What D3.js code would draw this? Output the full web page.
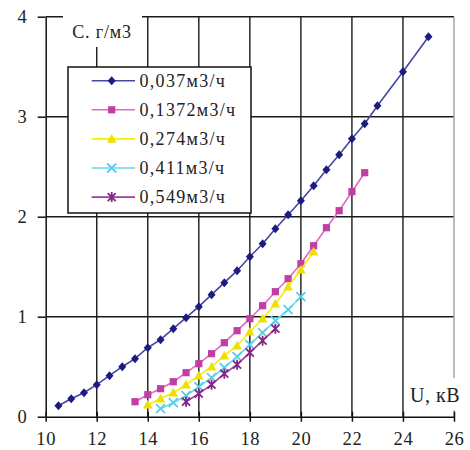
<!DOCTYPE html>
<html><head><meta charset="utf-8">
<script src="https://cdn.jsdelivr.net/npm/d3@7"></script>
<style>html,body{margin:0;padding:0;background:#fff;}svg{display:block;}</style>
</head><body>
<svg id="chart" width="470" height="450"></svg>
<script>
const xTicks = [10,12,14,16,18,20,22,24,26];
const yTicks = [0,1,2,3,4];
const seriesNames = ["0,037м3/ч","0,1372м3/ч","0,274м3/ч","0,411м3/ч","0,549м3/ч"];
const u1 = [10.5,11,11.5,12,12.5,13,13.5,14,14.5,15,15.5,16,16.5,17,17.5,18,18.5,19,19.5,20,20.5,21,21.5,22,22.5,23,24,25];
const c1 = [0.11,0.18,0.24,0.32,0.41,0.50,0.58,0.69,0.77,0.88,0.99,1.10,1.22,1.34,1.46,1.60,1.73,1.88,2.02,2.16,2.31,2.47,2.62,2.78,2.93,3.11,3.45,3.80];
const u2 = [13.5,14,14.5,15,15.5,16,16.5,17,17.5,18,18.5,19,19.5,20,20.5,21,21.5,22,22.5];
const c2 = [0.15,0.22,0.28,0.35,0.44,0.53,0.63,0.74,0.86,0.98,1.11,1.25,1.38,1.53,1.71,1.89,2.06,2.25,2.44];
const u3 = [14,14.5,15,15.5,16,16.5,17,17.5,18,18.5,19,19.5,20,20.5];
const c3 = [0.12,0.18,0.24,0.32,0.41,0.50,0.61,0.71,0.85,0.98,1.13,1.30,1.47,1.65];
const u4 = [14.5,15,15.5,16,16.5,17,17.5,18,18.5,19,19.5,20];
const c4 = [0.08,0.14,0.21,0.30,0.39,0.49,0.60,0.72,0.84,0.96,1.07,1.20];
const u5 = [15.5,16,16.5,17,17.5,18,18.5,19];
const c5 = [0.15,0.23,0.32,0.43,0.52,0.64,0.76,0.88];

const lineColors = ["#4646a6","#e06ac6","#f4ee00","#6ad8ec","#a03ca0"];
const markColors = ["#1c1c80","#c23ea6","#eee000","#55cfe6","#852585"];
const markers = ["diamond","square","triangle","x","star"];

const svg = d3.select("#chart");
const x = d3.scaleLinear().domain([10,26]).range([45.7,454]);
const y = d3.scaleLinear().domain([0,4]).range([416.7,16.7]);
const font = "'Liberation Serif','Times New Roman',serif";

// grid
const grid = svg.append("g");
grid.selectAll("line.v").data(xTicks.slice(1,-1)).join("line")
  .attr("x1",d=>x(d)).attr("x2",d=>x(d)).attr("y1",y(4)).attr("y2",y(0))
  .attr("stroke","#1a1a1a").attr("stroke-width",1.4);
grid.selectAll("line.h").data(yTicks.slice(1)).join("line")
  .attr("x1",x(10)).attr("x2",x(26)).attr("y1",d=>y(d)).attr("y2",d=>y(d))
  .attr("stroke","#1a1a1a").attr("stroke-width",1.4);
grid.append("line").attr("x1",x(26)).attr("x2",x(26)).attr("y1",y(4)).attr("y2",y(0))
  .attr("stroke","#a0a0a0").attr("stroke-width",1.4);

// axes
const xAxis = svg.append("g").attr("transform",`translate(0,${y(0)})`)
  .call(d3.axisBottom(x).tickValues(xTicks).tickFormat(d3.format("d")).tickSize(5).tickPadding(10).tickSizeOuter(0));
xAxis.selectAll(".tick line").attr("y1",-5);
const yAxis = svg.append("g").attr("transform",`translate(${x(10)},0)`)
  .call(d3.axisLeft(y).tickValues(yTicks).tickFormat(d3.format("d")).tickSize(8).tickPadding(11).tickSizeOuter(0));
[xAxis,yAxis].forEach(a=>{
  a.selectAll("path,line").attr("stroke","#111").attr("stroke-width",1.5);
  a.selectAll("text").attr("font-family",font).attr("font-size",18.5).attr("fill","#222");
});
xAxis.selectAll("text").attr("letter-spacing",0.6);

// series
const lineGen = d3.line().x(d=>x(d[0])).y(d=>y(d[1]));
const data = [[u1,c1],[u2,c2],[u3,c3],[u4,c4],[u5,c5]].map(([u,c])=>u.map((v,i)=>[v,c[i]]));

function drawMarker(g, type, color){
  if(type==="diamond"){
    g.append("path").attr("d","M0,-4.5L4,0L0,4.5L-4,0Z").attr("fill",color);
  } else if(type==="square"){
    g.append("rect").attr("x",-3.6).attr("y",-3.6).attr("width",7.2).attr("height",7.2).attr("fill",color);
  } else if(type==="triangle"){
    g.append("path").attr("d","M0,-5L4.8,3.8L-4.8,3.8Z").attr("fill",color);
  } else if(type==="x"){
    g.append("path").attr("d","M-4.5,-4.5L4.5,4.5M-4.5,4.5L4.5,-4.5").attr("stroke",color).attr("stroke-width",1.8);
  } else if(type==="star"){
    g.append("path").attr("d","M-4,-4L4,4M-4,4L4,-4M0,-5L0,5").attr("stroke",color).attr("stroke-width",1.8);
  }
}

data.forEach((pts,i)=>{
  svg.append("path").datum(pts).attr("d",lineGen).attr("fill","none")
    .attr("stroke",lineColors[i]).attr("stroke-width",1.6);
  pts.forEach(p=>{
    const g = svg.append("g").attr("transform",`translate(${x(p[0])},${y(p[1])})`);
    drawMarker(g, markers[i], markColors[i]);
  });
});

// axis titles with white backgrounds
svg.append("rect").attr("x",63).attr("y",10).attr("width",79).attr("height",37).attr("fill","#fff");
svg.append("text").attr("x",102).attr("y",38).attr("text-anchor","middle")
  .attr("font-family",font).attr("font-size",18).attr("letter-spacing",0.8).attr("fill","#222").text("С. г/м3");
svg.append("rect").attr("x",405).attr("y",378).attr("width",60).attr("height",32).attr("fill","#fff");
svg.append("text").attr("x",410).attr("y",402)
  .attr("font-family",font).attr("font-size",20).attr("letter-spacing",0.5).attr("fill","#222").text("U, кВ");

// legend
const lg = svg.append("g");
lg.append("rect").attr("x",68).attr("y",67).attr("width",183).attr("height",146)
  .attr("fill","#fff").attr("stroke","#111").attr("stroke-width",1.5);
seriesNames.forEach((name,i)=>{
  const yy = 80.7 + i*29.1;
  lg.append("line").attr("x1",91.7).attr("x2",135).attr("y1",yy).attr("y2",yy)
    .attr("stroke",lineColors[i]).attr("stroke-width",1.6);
  const g = lg.append("g").attr("transform",`translate(111.7,${yy})`);
  drawMarker(g, markers[i], markColors[i]);
  lg.append("text").attr("x",139.5).attr("y",yy+6).attr("font-family",font)
    .attr("font-size",18).attr("letter-spacing",1.3).attr("fill","#222").text(name);
});
</script>
</body></html>
